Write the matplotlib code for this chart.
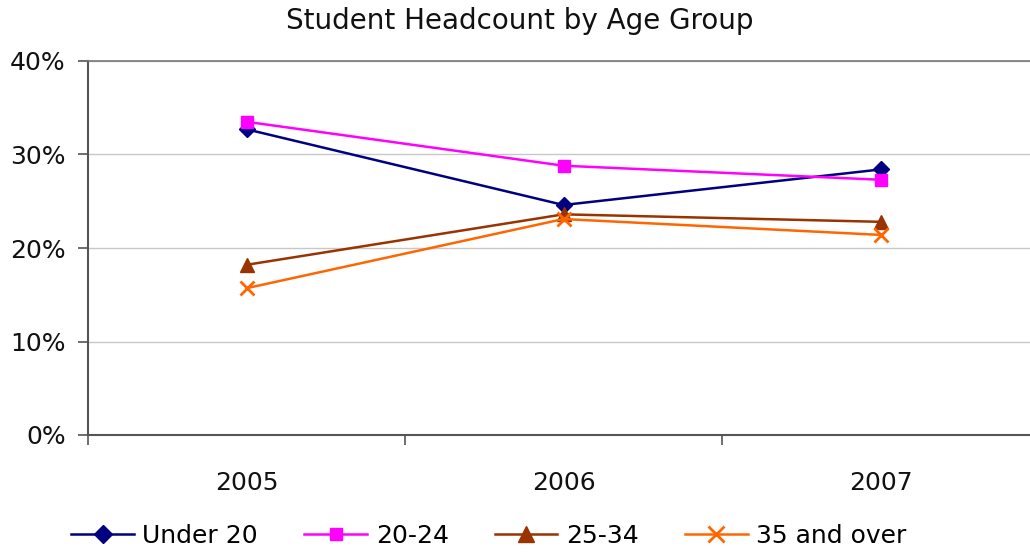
import matplotlib
matplotlib.use("Agg")
import matplotlib.pyplot as plt
from matplotlib.ticker import FixedLocator, NullFormatter, FixedFormatter

years = ["2005", "2006", "2007"]
under20 = [32.7, 24.6, 28.4]
age20_24 = [33.5, 28.8, 27.3]
age25_34 = [18.2, 23.6, 22.8]
age35_over = [15.7, 23.1, 21.4]
series_names = ["Under 20", "20-24", "25-34", "35 and over"]
y_ticks = [0, 10, 20, 30, 40]

plt.rcParams['font.family'] = ['DejaVu Sans']

fig = plt.figure(figsize=(10.3, 5.52), dpi=100)
ax = fig.add_axes([88/1030, (552-435)/552, (1039-88)/1030, (435-61)/552])

x = list(range(len(years)))
styles = [
    (under20, "#000080", "D", 8.5, {}),
    (age20_24, "#FF00FF", "s", 8.5, {}),
    (age25_34, "#993300", "^", 10, {}),
    (age35_over, "#FF6600", "x", 10, {"markeredgewidth": 2}),
]
for (vals, col, mk, ms, extra), name in zip(styles, series_names):
    ax.plot(x, vals, color=col, marker=mk, markersize=ms, linewidth=1.8,
            markerfacecolor=col, markeredgecolor=col, label=name, **extra)

ax.set_xlim(-0.5, 2.5)
ax.set_ylim(0, 40)
ax.xaxis.set_major_locator(FixedLocator([-0.5, 0.5, 1.5, 2.5]))
ax.xaxis.set_major_formatter(NullFormatter())
ax.xaxis.set_minor_locator(FixedLocator(x))
ax.xaxis.set_minor_formatter(FixedFormatter(years))
ax.tick_params(axis='x', which='major', length=7, direction='out', color='#555555', width=1.2)
ax.tick_params(axis='x', which='minor', length=0, pad=26, labelsize=18, labelcolor='#111111')

ax.set_yticks(y_ticks)
ax.set_yticklabels([f"{v}%" for v in y_ticks])
ax.tick_params(axis='y', length=7, direction='out', color='#555555', width=1.2, pad=9,
               labelsize=18, labelcolor='#111111')

ax.yaxis.grid(True, color='#C8C8C8', linewidth=1)
ax.set_axisbelow(True)
for s in ['left', 'bottom']:
    ax.spines[s].set_color('#555555')
    ax.spines[s].set_linewidth(1.5)
ax.spines['top'].set_color('#777777')
ax.spines['top'].set_linewidth(1.2)
ax.spines['right'].set_visible(False)

fig.text(520/1030, 1 - 21/552, "Student Headcount by Age Group", ha='center', va='center',
         fontsize=20, color='#111111')

leg = fig.legend(loc='center', bbox_to_anchor=(489/1030, 1 - 536/552), ncol=4, frameon=False,
                 fontsize=18, handlelength=2.5, columnspacing=1.85, handletextpad=0.35,
                 markerscale=1.1)

fig.savefig("out.png", dpi=100)
